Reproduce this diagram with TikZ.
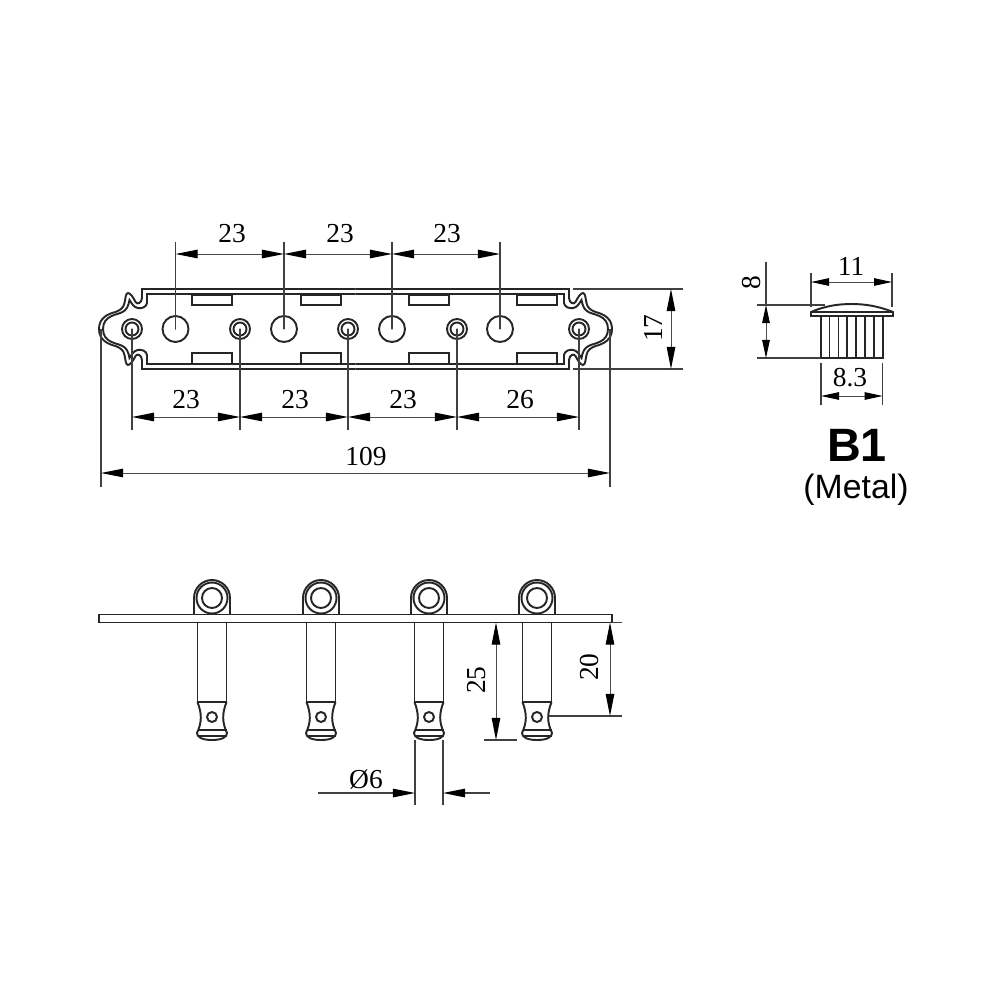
\documentclass[tikz,border=0pt]{standalone}
\usepackage{fontspec}
\setmainfont{Liberation Serif}
\newfontfamily\labelsans{Liberation Sans}
\usetikzlibrary{arrows.meta}
\tikzset{
	outline/.style={line width=0.55pt,black!85},
	dimline/.style={line width=0.28pt,black!70,{Triangle[length=0.22cm,width=0.085cm,black]}-{Triangle[length=0.22cm,width=0.085cm,black]}},
	smalldim/.style={line width=0.28pt,black!70,{Triangle[length=0.18cm,width=0.075cm,black]}-{Triangle[length=0.18cm,width=0.075cm,black]}},
	extline/.style={line width=0.3pt,black!75},
	dimtext/.style={font=\fontsize{7.8}{9}\selectfont,inner sep=0pt}
}
\begin{document}
\begin{tikzpicture}[x=0.01cm,y=-0.01cm]
		\useasboundingbox (0,0) rectangle (1000,1000);
		\begin{scope}[shift={(355.5,329)}]
		\foreach \sx in {1,-1}
		\foreach \sy in {1,-1}{
		\draw[outline,xscale=\sx,yscale=\sy] (0,-40)--(-213.5,-40)--(-213.5,-31) .. controls (-214,-26) and (-218,-24) .. (-220,-27) .. controls (-222,-31) and (-225,-36) .. (-227.5,-36) .. controls (-230,-36) and (-230,-30) .. (-231,-26) .. controls (-232,-21) and (-235,-19) .. (-240,-17) .. controls (-248,-15) and (-256.5,-11) .. (-256.5,0);
		\draw[outline,xscale=\sx,yscale=\sy] (0,-35)--(-208.5,-35)--(-208.5,-26) .. controls (-209,-22) and (-214,-20) .. (-218,-21) .. controls (-222,-22) and (-224,-26) .. (-226,-29) .. controls (-227,-23) and (-229,-19) .. (-233,-17) .. controls (-238,-14) and (-252.5,-14) .. (-252.5,0);
		}
		\end{scope}
		\foreach \px in {192,301,409,517}{
		\draw[outline] (\px,295) rectangle ++(40,10);
		\draw[outline] (\px,353) rectangle ++(40,11);
		}
		\foreach \px in {132,240,348,457,579}{
		\draw[outline] (\px,329) circle (10) (\px,329) circle (6.5);
		\fill (\px,329) circle (0.7);
		\draw[extline] (\px,329)--(\px,430);
		}
		\foreach \px in {175.5,284,392,500}{
		\draw[outline] (\px,329) circle (13);
		\fill (\px,329) circle (0.7);
		\draw[extline] (\px,242)--(\px,329);
		}
		\foreach \xa/\xb/\txt/\lx in {175.5/284/23/232,284/392/23/340,392/500/23/447}{
		\draw[dimline] (\xa,254)--(\xb,254);
		\node[dimtext] (top\lx) at (\lx,234) {\txt};
		}
		\foreach \xa/\xb/\txt/\lx in {132/240/23/186,240/348/23/295,348/457/23/403,457/579/26/520}{
		\draw[dimline] (\xa,417)--(\xb,417);
		\node[dimtext] (bottom\lx) at (\lx,400) {\txt};
		}
		\draw[extline] (101,329)--(101,487) (610,329)--(610,487);
		\draw[dimline] (101,473)--(610,473);
		\node[dimtext] (overall) at (366,457) {109};
		\draw[extline] (573,289)--(683,289) (573,369)--(683,369);
		\draw[dimline] (671,289)--(671,369);
		\node[dimtext,rotate=90] (width) at (653,328) {17};
		\draw[outline] (99,614.5) rectangle (612,622.5);
		\foreach \px in {212,321,429,537}{
		\draw[outline] (\px-18,614.5)--(\px-18,598) arc[start angle=180,end angle=360,radius=18]--(\px+18,614.5);
		\draw[outline] (\px,598) circle (15.5) (\px,598) circle (10);
		\draw[outline] (\px-14.5,622.5)--(\px-14.5,702)--(\px+14.5,702)--(\px+14.5,622.5);
		\draw[outline] (\px-14.5,702) .. controls (\px-10,714) and (\px-10,722) .. (\px-15,733) .. controls (\px-15,737) and (\px-10,740) .. (\px,740) .. controls (\px+10,740) and (\px+15,737) .. (\px+15,733) .. controls (\px+10,722) and (\px+10,714) .. (\px+14.5,702);
		\draw[outline] (\px-14.5,730)--(\px+14.5,730) (\px-14.5,736)--(\px+14.5,736);
		\draw[outline] (\px,717) circle (5);
		}
		\draw[extline] (612,622.5)--(622,622.5) (484,740)--(517,740) (549,716)--(622,716);
		\draw[dimline] (496,622.5)--(496,740);
		\node[dimtext,rotate=90] (pinlong) at (477,680) {25};
		\draw[dimline] (610,622.5)--(610,716);
		\node[dimtext,rotate=90] (pinshort) at (590,667) {20};
		\draw[extline] (415,740)--(415,805) (443,740)--(443,805);
		\draw[extline,-{Triangle[length=0.22cm,width=0.085cm,black]}] (318,793)--(415,793);
		\draw[extline,-{Triangle[length=0.22cm,width=0.085cm,black]}] (490,793)--(443,793);
		\node[dimtext] (diameter) at (366,780) {Ø6};
		\draw[outline] (811,316)--(811,312) .. controls (825,306) and (838,304) .. (851.5,304) .. controls (865,304) and (878,306) .. (893,312)--(893,316)--cycle;
		\draw[outline] (811,312)--(893,312);
		\draw[outline] (820.7,316)--(820.7,358)--(882.7,358)--(882.7,316);
		\foreach \px in {829.3,838.3,847,856,865,874}{
		\draw[outline,line width=0.4pt] (\px,316)--(\px,358);
		}
		\draw[extline] (811,273)--(811,307) (892,273)--(892,307);
		\draw[smalldim] (811,282)--(892,282);
		\node[dimtext] (capwidth) at (851,266) {11};
		\draw[extline] (821,363)--(821,405) (882.7,363)--(882.7,405);
		\draw[smalldim] (821,396)--(882.7,396);
		\node[dimtext] (bodywidth) at (850,378) {8.3};
		\draw[extline] (757,305)--(825,305) (757,358)--(821,358) (766,262)--(766,305);
		\draw[smalldim] (766,305)--(766,358);
		\node[dimtext,rotate=90] (capheight) at (752,283) {8};
		\node[inner sep=0pt,font=\labelsans\bfseries\fontsize{13.3}{15}\selectfont] (model) at (857,445) {B1};
		\node[inner sep=0pt,font=\labelsans\fontsize{9.6}{11}\selectfont] (material) at (856,490) {(Metal)};
		\end{tikzpicture}
\end{document}
